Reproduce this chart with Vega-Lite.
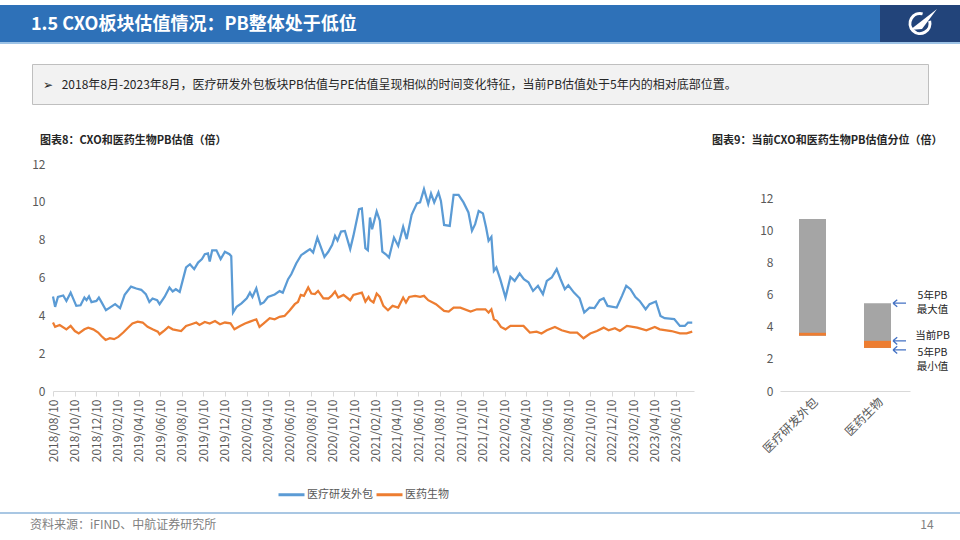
{
  "$schema": "https://vega.github.io/schema/vega-lite/v6.json",
  "background": "white",
  "padding": {"left": 0, "top": 5, "right": 0, "bottom": 0},
  "config": {"font": "Noto Sans CJK SC", "view": {"stroke": null}, "axisY": {"labelOverlap": false}, "axisQuantitative": {"labelOverlap": false}},
  "spacing": 0,
  "resolve": {"scale": {"color": "independent"}, "legend": {"color": "independent"}},
  "vconcat": [
    {
      "spacing": 0,
      "hconcat": [
        {
          "width": 880, "height": 37,
          "view": {"fill": "#2E71B8", "stroke": null},
          "title": {"text": "1.5 CXO板块估值情况：PB整体处于低位", "anchor": "start", "frame": "group", "orient": "top", "offset": -38, "dx": 31, "baseline": "middle", "color": "#FFFFFF", "fontSize": 18, "fontWeight": "bold"},
          "data": {"values": []},
          "mark": "point"
        },
        {
          "width": 80, "height": 37,
          "view": {"fill": "#22447A", "stroke": null},
          "data": {"values": [{"k": "logo"}]},
          "layer": [
            {"mark": {"type": "point", "shape": "M0.966,-0.259A1,1 0 1,1 0.259,-0.966", "filled": false, "stroke": "#FFFFFF", "strokeWidth": 3, "size": 400, "opacity": 1}, "encoding": {}},
            {"mark": {"type": "point", "shape": "M-1,0.65L1.7,-1.45L0.2,0.55Z", "filled": true, "fill": "#FFFFFF", "strokeWidth": 0, "size": 400, "opacity": 1}, "encoding": {}}
          ]
        }
      ]
    },
    {"width": 960, "height": 2, "view": {"fill": "#9DC3E6", "stroke": null}, "data": {"values": []}, "mark": "point"},
    {"width": 960, "height": 19, "data": {"values": []}, "mark": "point"},
    {
      "spacing": 0,
      "hconcat": [
        {"width": 31, "height": 40, "data": {"values": []}, "mark": "point"},
        {
          "width": 896, "height": 40,
          "view": {"fill": "#F2F2F2", "stroke": "#BFBFBF", "strokeWidth": 1},
          "title": {"text": "➢\u2002 2018年8月-2023年8月，医疗研发外包板块PB估值与PE估值呈现相似的时间变化特征，当前PB估值处于5年内的相对底部位置。", "anchor": "start", "frame": "group", "orient": "top", "offset": -33, "dx": 11, "baseline": "middle", "color": "#262626", "fontSize": 12, "fontWeight": "normal"},
          "data": {"values": []},
          "mark": "point"
        }
      ]
    },
    {"width": 960, "height": 30, "data": {"values": []}, "mark": "point"},
    {
      "spacing": 0,
      "resolve": {"scale": {"color": "independent"}, "legend": {"color": "independent"}},
      "hconcat": [
        {"width": 31, "height": 10, "data": {"values": []}, "mark": "point"},
        {
          "width": 641, "height": 227,
          "title": {"text": "图表8：CXO和医药生物PB估值（倍）", "anchor": "start", "frame": "group", "orient": "top", "dx": -13, "offset": 1, "baseline": "bottom", "fontSize": 11, "fontWeight": "bold", "color": "#262626"},
          "data": {"values": [
            {"date": "2018-08-10", "series": "医疗研发外包", "pb": 5.0},
            {"date": "2018-08-16", "series": "医疗研发外包", "pb": 4.45},
            {"date": "2018-08-24", "series": "医疗研发外包", "pb": 4.97},
            {"date": "2018-09-08", "series": "医疗研发外包", "pb": 5.05},
            {"date": "2018-09-17", "series": "医疗研发外包", "pb": 4.76},
            {"date": "2018-09-29", "series": "医疗研发外包", "pb": 5.2},
            {"date": "2018-10-15", "series": "医疗研发外包", "pb": 4.5},
            {"date": "2018-10-27", "series": "医疗研发外包", "pb": 4.53},
            {"date": "2018-11-07", "series": "医疗研发外包", "pb": 4.94},
            {"date": "2018-11-13", "series": "医疗研发外包", "pb": 4.8},
            {"date": "2018-11-20", "series": "医疗研发外包", "pb": 5.0},
            {"date": "2018-11-27", "series": "医疗研发外包", "pb": 4.7},
            {"date": "2018-12-11", "series": "医疗研发外包", "pb": 4.76},
            {"date": "2018-12-18", "series": "医疗研发外包", "pb": 4.94},
            {"date": "2018-12-25", "series": "医疗研发外包", "pb": 4.71},
            {"date": "2019-01-07", "series": "医疗研发外包", "pb": 4.27},
            {"date": "2019-01-18", "series": "医疗研发外包", "pb": 4.41},
            {"date": "2019-02-02", "series": "医疗研发外包", "pb": 4.59},
            {"date": "2019-02-16", "series": "医疗研发外包", "pb": 4.38},
            {"date": "2019-03-01", "series": "医疗研发外包", "pb": 5.08},
            {"date": "2019-03-19", "series": "医疗研发外包", "pb": 5.52},
            {"date": "2019-04-03", "series": "医疗研发外包", "pb": 5.42},
            {"date": "2019-04-17", "series": "医疗研发外包", "pb": 5.35},
            {"date": "2019-04-30", "series": "医疗研发外包", "pb": 5.12},
            {"date": "2019-05-10", "series": "医疗研发外包", "pb": 4.71},
            {"date": "2019-05-19", "series": "医疗研发外包", "pb": 4.89},
            {"date": "2019-06-01", "series": "医疗研发外包", "pb": 4.8},
            {"date": "2019-06-08", "series": "医疗研发外包", "pb": 4.59},
            {"date": "2019-06-22", "series": "医疗研发外包", "pb": 4.97},
            {"date": "2019-07-06", "series": "医疗研发外包", "pb": 5.47},
            {"date": "2019-07-15", "series": "医疗研发外包", "pb": 5.26},
            {"date": "2019-07-24", "series": "医疗研发外包", "pb": 5.38},
            {"date": "2019-08-04", "series": "医疗研发外包", "pb": 5.24},
            {"date": "2019-08-22", "series": "医疗研发外包", "pb": 6.53},
            {"date": "2019-09-02", "series": "医疗研发外包", "pb": 6.7},
            {"date": "2019-09-14", "series": "医疗研发外包", "pb": 6.44},
            {"date": "2019-09-25", "series": "医疗研发外包", "pb": 6.79},
            {"date": "2019-10-06", "series": "医疗研发外包", "pb": 6.97},
            {"date": "2019-10-14", "series": "医疗研发外包", "pb": 7.23},
            {"date": "2019-10-23", "series": "医疗研发外包", "pb": 7.27},
            {"date": "2019-10-28", "series": "医疗研发外包", "pb": 6.85},
            {"date": "2019-11-04", "series": "医疗研发外包", "pb": 7.44},
            {"date": "2019-11-16", "series": "医疗研发外包", "pb": 7.44},
            {"date": "2019-11-28", "series": "医疗研发外包", "pb": 6.97},
            {"date": "2019-12-10", "series": "医疗研发外包", "pb": 7.36},
            {"date": "2019-12-23", "series": "医疗研发外包", "pb": 7.23},
            {"date": "2019-12-28", "series": "医疗研发外包", "pb": 7.13},
            {"date": "2020-01-02", "series": "医疗研发外包", "pb": 4.15},
            {"date": "2020-01-12", "series": "医疗研发外包", "pb": 4.45},
            {"date": "2020-01-26", "series": "医疗研发外包", "pb": 4.63},
            {"date": "2020-02-10", "series": "医疗研发外包", "pb": 4.9},
            {"date": "2020-02-19", "series": "医疗研发外包", "pb": 5.2},
            {"date": "2020-02-26", "series": "医疗研发外包", "pb": 4.97},
            {"date": "2020-03-08", "series": "医疗研发外包", "pb": 5.43},
            {"date": "2020-03-20", "series": "医疗研发外包", "pb": 4.59},
            {"date": "2020-03-29", "series": "医疗研发外包", "pb": 4.68},
            {"date": "2020-04-10", "series": "医疗研发外包", "pb": 4.97},
            {"date": "2020-04-29", "series": "医疗研发外包", "pb": 5.1},
            {"date": "2020-05-13", "series": "医疗研发外包", "pb": 5.28},
            {"date": "2020-05-22", "series": "医疗研发外包", "pb": 5.2},
            {"date": "2020-06-06", "series": "医疗研发外包", "pb": 5.91},
            {"date": "2020-06-15", "series": "医疗研发外包", "pb": 6.17},
            {"date": "2020-06-29", "series": "医疗研发外包", "pb": 6.74},
            {"date": "2020-07-13", "series": "医疗研发外包", "pb": 7.18},
            {"date": "2020-07-27", "series": "医疗研发外包", "pb": 7.36},
            {"date": "2020-08-07", "series": "医疗研发外包", "pb": 7.5},
            {"date": "2020-08-16", "series": "医疗研发外包", "pb": 7.32},
            {"date": "2020-08-28", "series": "医疗研发外包", "pb": 8.11},
            {"date": "2020-09-17", "series": "医疗研发外包", "pb": 7.09},
            {"date": "2020-09-28", "series": "医疗研发外包", "pb": 7.36},
            {"date": "2020-10-09", "series": "医疗研发外包", "pb": 7.73},
            {"date": "2020-10-17", "series": "医疗研发外包", "pb": 8.2},
            {"date": "2020-10-24", "series": "医疗研发外包", "pb": 7.96},
            {"date": "2020-11-03", "series": "医疗研发外包", "pb": 8.43},
            {"date": "2020-11-14", "series": "医疗研发外包", "pb": 8.46},
            {"date": "2020-11-29", "series": "医疗研发外包", "pb": 7.5},
            {"date": "2020-12-08", "series": "医疗研发外包", "pb": 8.2},
            {"date": "2020-12-24", "series": "医疗研发外包", "pb": 9.61},
            {"date": "2021-01-01", "series": "医疗研发外包", "pb": 9.65},
            {"date": "2021-01-11", "series": "医疗研发外包", "pb": 7.55},
            {"date": "2021-01-18", "series": "医疗研发外包", "pb": 7.44},
            {"date": "2021-01-24", "series": "医疗研发外包", "pb": 9.17},
            {"date": "2021-01-30", "series": "医疗研发外包", "pb": 8.55},
            {"date": "2021-02-12", "series": "医疗研发外包", "pb": 9.49},
            {"date": "2021-02-21", "series": "医疗研发外包", "pb": 9.0},
            {"date": "2021-02-28", "series": "医疗研发外包", "pb": 7.37},
            {"date": "2021-03-10", "series": "医疗研发外包", "pb": 7.23},
            {"date": "2021-03-19", "series": "医疗研发外包", "pb": 7.06},
            {"date": "2021-04-02", "series": "医疗研发外包", "pb": 8.11},
            {"date": "2021-04-14", "series": "医疗研发外包", "pb": 7.67},
            {"date": "2021-04-28", "series": "医疗研发外包", "pb": 8.68},
            {"date": "2021-05-08", "series": "医疗研发外包", "pb": 8.03},
            {"date": "2021-05-22", "series": "医疗研发外包", "pb": 9.31},
            {"date": "2021-06-06", "series": "医疗研发外包", "pb": 9.92},
            {"date": "2021-06-15", "series": "医疗研发外包", "pb": 9.97},
            {"date": "2021-06-26", "series": "医疗研发外包", "pb": 10.67},
            {"date": "2021-07-08", "series": "医疗研发外包", "pb": 9.88},
            {"date": "2021-07-16", "series": "医疗研发外包", "pb": 10.44},
            {"date": "2021-07-25", "series": "医疗研发外包", "pb": 9.97},
            {"date": "2021-08-06", "series": "医疗研发外包", "pb": 10.5},
            {"date": "2021-08-13", "series": "医疗研发外包", "pb": 10.05},
            {"date": "2021-08-22", "series": "医疗研发外包", "pb": 8.78},
            {"date": "2021-09-07", "series": "医疗研发外包", "pb": 8.73},
            {"date": "2021-09-18", "series": "医疗研发外包", "pb": 10.37},
            {"date": "2021-10-02", "series": "医疗研发外包", "pb": 10.37},
            {"date": "2021-10-16", "series": "医疗研发外包", "pb": 9.97},
            {"date": "2021-10-30", "series": "医疗研发外包", "pb": 9.44},
            {"date": "2021-11-09", "series": "医疗研发外包", "pb": 8.47},
            {"date": "2021-11-18", "series": "医疗研发外包", "pb": 8.82},
            {"date": "2021-11-28", "series": "医疗研发外包", "pb": 9.52},
            {"date": "2021-12-10", "series": "医疗研发外包", "pb": 9.39},
            {"date": "2021-12-19", "series": "医疗研发外包", "pb": 8.64},
            {"date": "2021-12-26", "series": "医疗研发外包", "pb": 7.94},
            {"date": "2022-01-03", "series": "医疗研发外包", "pb": 8.15},
            {"date": "2022-01-10", "series": "医疗研发外包", "pb": 6.35},
            {"date": "2022-01-17", "series": "医疗研发外包", "pb": 6.53},
            {"date": "2022-01-28", "series": "医疗研发外包", "pb": 5.91},
            {"date": "2022-02-12", "series": "医疗研发外包", "pb": 4.94},
            {"date": "2022-02-26", "series": "医疗研发外包", "pb": 6.03},
            {"date": "2022-03-10", "series": "医疗研发外包", "pb": 5.82},
            {"date": "2022-03-24", "series": "医疗研发外包", "pb": 6.21},
            {"date": "2022-04-05", "series": "医疗研发外包", "pb": 5.91},
            {"date": "2022-04-18", "series": "医疗研发外包", "pb": 5.75},
            {"date": "2022-05-01", "series": "医疗研发外包", "pb": 5.29},
            {"date": "2022-05-15", "series": "医疗研发外包", "pb": 5.56},
            {"date": "2022-05-29", "series": "医疗研发外包", "pb": 5.12},
            {"date": "2022-06-09", "series": "医疗研发外包", "pb": 5.82},
            {"date": "2022-06-23", "series": "医疗研发外包", "pb": 6.0},
            {"date": "2022-07-07", "series": "医疗研发外包", "pb": 6.44},
            {"date": "2022-07-18", "series": "医疗研发外包", "pb": 5.91},
            {"date": "2022-07-30", "series": "医疗研发外包", "pb": 5.38},
            {"date": "2022-08-09", "series": "医疗研发外包", "pb": 5.59},
            {"date": "2022-08-25", "series": "医疗研发外包", "pb": 5.2},
            {"date": "2022-09-10", "series": "医疗研发外包", "pb": 4.9},
            {"date": "2022-09-23", "series": "医疗研发外包", "pb": 4.15},
            {"date": "2022-10-08", "series": "医疗研发外包", "pb": 4.41},
            {"date": "2022-10-22", "series": "医疗研发外包", "pb": 4.38},
            {"date": "2022-11-06", "series": "医疗研发外包", "pb": 4.8},
            {"date": "2022-11-17", "series": "医疗研发外包", "pb": 4.9},
            {"date": "2022-11-28", "series": "医疗研发外包", "pb": 4.5},
            {"date": "2022-12-24", "series": "医疗研发外包", "pb": 4.41},
            {"date": "2023-01-08", "series": "医疗研发外包", "pb": 5.03},
            {"date": "2023-01-20", "series": "医疗研发外包", "pb": 5.56},
            {"date": "2023-02-01", "series": "医疗研发外包", "pb": 5.38},
            {"date": "2023-02-15", "series": "医疗研发外包", "pb": 4.97},
            {"date": "2023-02-27", "series": "医疗研发外包", "pb": 4.76},
            {"date": "2023-03-16", "series": "医疗研发外包", "pb": 4.32},
            {"date": "2023-03-27", "series": "医疗研发外包", "pb": 4.59},
            {"date": "2023-04-14", "series": "医疗研发外包", "pb": 4.73},
            {"date": "2023-04-27", "series": "医疗研发外包", "pb": 3.97},
            {"date": "2023-05-09", "series": "医疗研发外包", "pb": 3.85},
            {"date": "2023-05-23", "series": "医疗研发外包", "pb": 3.83},
            {"date": "2023-06-05", "series": "医疗研发外包", "pb": 3.8},
            {"date": "2023-06-21", "series": "医疗研发外包", "pb": 3.44},
            {"date": "2023-07-05", "series": "医疗研发外包", "pb": 3.44},
            {"date": "2023-07-14", "series": "医疗研发外包", "pb": 3.62},
            {"date": "2023-07-26", "series": "医疗研发外包", "pb": 3.62},
            {"date": "2018-08-10", "series": "医药生物", "pb": 3.62},
            {"date": "2018-08-16", "series": "医药生物", "pb": 3.39},
            {"date": "2018-08-29", "series": "医药生物", "pb": 3.49},
            {"date": "2018-09-17", "series": "医药生物", "pb": 3.26},
            {"date": "2018-09-29", "series": "医药生物", "pb": 3.44},
            {"date": "2018-10-11", "series": "医药生物", "pb": 3.17},
            {"date": "2018-10-22", "series": "医药生物", "pb": 3.04},
            {"date": "2018-11-07", "series": "医药生物", "pb": 3.26},
            {"date": "2018-11-18", "series": "医药生物", "pb": 3.35},
            {"date": "2018-12-02", "series": "医药生物", "pb": 3.26},
            {"date": "2018-12-16", "series": "医药生物", "pb": 3.09},
            {"date": "2018-12-25", "series": "医药生物", "pb": 2.91},
            {"date": "2019-01-06", "series": "医药生物", "pb": 2.7},
            {"date": "2019-01-18", "series": "医药生物", "pb": 2.79},
            {"date": "2019-01-30", "series": "医药生物", "pb": 2.74},
            {"date": "2019-02-11", "series": "医药生物", "pb": 2.86},
            {"date": "2019-02-25", "series": "医药生物", "pb": 3.09},
            {"date": "2019-03-09", "series": "医药生物", "pb": 3.32},
            {"date": "2019-03-23", "series": "医药生物", "pb": 3.57},
            {"date": "2019-04-07", "series": "医药生物", "pb": 3.67},
            {"date": "2019-04-21", "series": "医药生物", "pb": 3.62},
            {"date": "2019-05-05", "series": "医药生物", "pb": 3.39},
            {"date": "2019-05-19", "series": "医药生物", "pb": 3.26},
            {"date": "2019-06-03", "series": "医药生物", "pb": 3.14},
            {"date": "2019-06-08", "series": "医药生物", "pb": 3.0},
            {"date": "2019-06-22", "series": "医药生物", "pb": 3.21},
            {"date": "2019-07-03", "series": "医药生物", "pb": 3.39},
            {"date": "2019-07-15", "series": "医药生物", "pb": 3.26},
            {"date": "2019-08-08", "series": "医药生物", "pb": 3.17},
            {"date": "2019-08-22", "series": "医药生物", "pb": 3.44},
            {"date": "2019-09-06", "series": "医药生物", "pb": 3.53},
            {"date": "2019-09-20", "series": "医药生物", "pb": 3.62},
            {"date": "2019-09-29", "series": "医药生物", "pb": 3.49},
            {"date": "2019-10-14", "series": "医药生物", "pb": 3.65},
            {"date": "2019-10-28", "series": "医药生物", "pb": 3.57},
            {"date": "2019-11-12", "series": "医药生物", "pb": 3.7},
            {"date": "2019-11-26", "series": "医药生物", "pb": 3.53},
            {"date": "2019-12-10", "series": "医药生物", "pb": 3.62},
            {"date": "2019-12-26", "series": "医药生物", "pb": 3.58},
            {"date": "2020-01-06", "series": "医药生物", "pb": 3.26},
            {"date": "2020-01-22", "series": "医药生物", "pb": 3.44},
            {"date": "2020-02-05", "series": "医药生物", "pb": 3.57},
            {"date": "2020-02-19", "series": "医药生物", "pb": 3.67},
            {"date": "2020-03-08", "series": "医药生物", "pb": 3.79},
            {"date": "2020-03-17", "series": "医药生物", "pb": 3.39},
            {"date": "2020-03-29", "series": "医药生物", "pb": 3.57},
            {"date": "2020-04-15", "series": "医药生物", "pb": 3.85},
            {"date": "2020-04-29", "series": "医药生物", "pb": 3.79},
            {"date": "2020-05-13", "series": "医药生物", "pb": 3.92},
            {"date": "2020-05-27", "series": "医药生物", "pb": 3.97},
            {"date": "2020-06-11", "series": "医药生物", "pb": 4.27},
            {"date": "2020-06-25", "series": "医药生物", "pb": 4.59},
            {"date": "2020-07-04", "series": "医药生物", "pb": 4.71},
            {"date": "2020-07-12", "series": "医药生物", "pb": 5.08},
            {"date": "2020-07-21", "series": "医药生物", "pb": 5.03},
            {"date": "2020-08-02", "series": "医药生物", "pb": 5.47},
            {"date": "2020-08-11", "series": "医药生物", "pb": 5.15},
            {"date": "2020-08-21", "series": "医药生物", "pb": 5.12},
            {"date": "2020-08-30", "series": "医药生物", "pb": 5.29},
            {"date": "2020-09-14", "series": "医药生物", "pb": 4.9},
            {"date": "2020-09-28", "series": "医药生物", "pb": 4.89},
            {"date": "2020-10-07", "series": "医药生物", "pb": 5.03},
            {"date": "2020-10-17", "series": "医药生物", "pb": 5.26},
            {"date": "2020-10-26", "series": "医药生物", "pb": 4.94},
            {"date": "2020-11-10", "series": "医药生物", "pb": 5.08},
            {"date": "2020-11-29", "series": "医药生物", "pb": 4.8},
            {"date": "2020-12-08", "series": "医药生物", "pb": 5.08},
            {"date": "2021-01-01", "series": "医药生物", "pb": 5.2},
            {"date": "2021-01-11", "series": "医药生物", "pb": 4.73},
            {"date": "2021-01-20", "series": "医药生物", "pb": 4.97},
            {"date": "2021-01-25", "series": "医药生物", "pb": 4.8},
            {"date": "2021-02-03", "series": "医药生物", "pb": 4.68},
            {"date": "2021-02-12", "series": "医药生物", "pb": 5.15},
            {"date": "2021-02-21", "series": "医药生物", "pb": 4.97},
            {"date": "2021-03-03", "series": "医药生物", "pb": 4.5},
            {"date": "2021-03-16", "series": "医药生物", "pb": 4.27},
            {"date": "2021-03-29", "series": "医药生物", "pb": 4.5},
            {"date": "2021-04-14", "series": "医药生物", "pb": 4.41},
            {"date": "2021-04-28", "series": "医药生物", "pb": 4.94},
            {"date": "2021-05-06", "series": "医药生物", "pb": 4.68},
            {"date": "2021-05-15", "series": "医药生物", "pb": 4.97},
            {"date": "2021-06-01", "series": "医药生物", "pb": 5.03},
            {"date": "2021-06-15", "series": "医药生物", "pb": 4.98},
            {"date": "2021-06-26", "series": "医药生物", "pb": 5.03},
            {"date": "2021-07-08", "series": "医药生物", "pb": 4.8},
            {"date": "2021-07-30", "series": "医药生物", "pb": 4.59},
            {"date": "2021-08-22", "series": "医药生物", "pb": 4.23},
            {"date": "2021-09-04", "series": "医药生物", "pb": 4.2},
            {"date": "2021-09-18", "series": "医药生物", "pb": 4.41},
            {"date": "2021-10-07", "series": "医药生物", "pb": 4.41},
            {"date": "2021-11-05", "series": "医药生物", "pb": 4.2},
            {"date": "2021-11-23", "series": "医药生物", "pb": 4.32},
            {"date": "2021-12-17", "series": "医药生物", "pb": 4.32},
            {"date": "2021-12-26", "series": "医药生物", "pb": 4.15},
            {"date": "2022-01-03", "series": "医药生物", "pb": 4.32},
            {"date": "2022-01-10", "series": "医药生物", "pb": 3.79},
            {"date": "2022-01-19", "series": "医药生物", "pb": 3.7},
            {"date": "2022-01-30", "series": "医药生物", "pb": 3.39},
            {"date": "2022-02-12", "series": "医药生物", "pb": 3.26},
            {"date": "2022-02-26", "series": "医药生物", "pb": 3.44},
            {"date": "2022-03-15", "series": "医药生物", "pb": 3.44},
            {"date": "2022-04-04", "series": "医药生物", "pb": 3.44},
            {"date": "2022-04-22", "series": "医药生物", "pb": 3.09},
            {"date": "2022-05-11", "series": "医药生物", "pb": 3.14},
            {"date": "2022-05-25", "series": "医药生物", "pb": 3.04},
            {"date": "2022-06-09", "series": "医药生物", "pb": 3.21},
            {"date": "2022-07-02", "series": "医药生物", "pb": 3.39},
            {"date": "2022-07-21", "series": "医药生物", "pb": 3.21},
            {"date": "2022-08-14", "series": "医药生物", "pb": 3.09},
            {"date": "2022-09-03", "series": "医药生物", "pb": 3.09},
            {"date": "2022-09-21", "series": "医药生物", "pb": 2.79},
            {"date": "2022-10-10", "series": "医药生物", "pb": 3.04},
            {"date": "2022-10-29", "series": "医药生物", "pb": 3.17},
            {"date": "2022-11-17", "series": "医药生物", "pb": 3.35},
            {"date": "2022-12-01", "series": "医药生物", "pb": 3.21},
            {"date": "2022-12-19", "series": "医药生物", "pb": 3.32},
            {"date": "2023-01-02", "series": "医药生物", "pb": 3.17},
            {"date": "2023-01-22", "series": "医药生物", "pb": 3.44},
            {"date": "2023-02-20", "series": "医药生物", "pb": 3.35},
            {"date": "2023-03-18", "series": "医药生物", "pb": 3.21},
            {"date": "2023-04-11", "series": "医药生物", "pb": 3.39},
            {"date": "2023-04-25", "series": "医药生物", "pb": 3.26},
            {"date": "2023-05-28", "series": "医药生物", "pb": 3.17},
            {"date": "2023-06-21", "series": "医药生物", "pb": 3.05},
            {"date": "2023-07-10", "series": "医药生物", "pb": 3.05},
            {"date": "2023-07-26", "series": "医药生物", "pb": 3.14}
          ]},
          "mark": {"type": "line", "strokeWidth": 2.25},
          "encoding": {
            "x": {
              "field": "date", "type": "temporal",
              "scale": {"type": "utc", "domain": [{"year": 2018, "month": 8, "date": 10, "utc": true}, {"year": 2023, "month": 7, "date": 31, "utc": true}]},
              "axis": {
                "title": null, "grid": false, "format": "%Y/%m/%d", "labelAngle": 270, "labelFontSize": 12, "labelColor": "#595959",
                "labelPadding": 3, "tickSize": 5, "tickColor": "#D9D9D9", "domainColor": "#D9D9D9", "labelFlush": false, "labelOverlap": false, "tickCount": 40,
                "values": [
                  {"year": 2018, "month": 8, "date": 10, "utc": true}, {"year": 2018, "month": 10, "date": 10, "utc": true}, {"year": 2018, "month": 12, "date": 10, "utc": true},
                  {"year": 2019, "month": 2, "date": 10, "utc": true}, {"year": 2019, "month": 4, "date": 10, "utc": true}, {"year": 2019, "month": 6, "date": 10, "utc": true},
                  {"year": 2019, "month": 8, "date": 10, "utc": true}, {"year": 2019, "month": 10, "date": 10, "utc": true}, {"year": 2019, "month": 12, "date": 10, "utc": true},
                  {"year": 2020, "month": 2, "date": 10, "utc": true}, {"year": 2020, "month": 4, "date": 10, "utc": true}, {"year": 2020, "month": 6, "date": 10, "utc": true},
                  {"year": 2020, "month": 8, "date": 10, "utc": true}, {"year": 2020, "month": 10, "date": 10, "utc": true}, {"year": 2020, "month": 12, "date": 10, "utc": true},
                  {"year": 2021, "month": 2, "date": 10, "utc": true}, {"year": 2021, "month": 4, "date": 10, "utc": true}, {"year": 2021, "month": 6, "date": 10, "utc": true},
                  {"year": 2021, "month": 8, "date": 10, "utc": true}, {"year": 2021, "month": 10, "date": 10, "utc": true}, {"year": 2021, "month": 12, "date": 10, "utc": true},
                  {"year": 2022, "month": 2, "date": 10, "utc": true}, {"year": 2022, "month": 4, "date": 10, "utc": true}, {"year": 2022, "month": 6, "date": 10, "utc": true},
                  {"year": 2022, "month": 8, "date": 10, "utc": true}, {"year": 2022, "month": 10, "date": 10, "utc": true}, {"year": 2022, "month": 12, "date": 10, "utc": true},
                  {"year": 2023, "month": 2, "date": 10, "utc": true}, {"year": 2023, "month": 4, "date": 10, "utc": true}, {"year": 2023, "month": 6, "date": 10, "utc": true}
                ]
              }
            },
            "y": {
              "field": "pb", "type": "quantitative",
              "scale": {"domain": [0, 12], "nice": false},
              "axis": {"title": null, "values": [0, 2, 4, 6, 8, 10, 12], "tickCount": 10, "grid": false, "domain": false, "ticks": false, "labelFontSize": 12, "labelColor": "#595959", "labelPadding": 8, "labelOverlap": false}
            },
            "color": {
              "field": "series", "type": "nominal",
              "scale": {"domain": ["医疗研发外包", "医药生物"], "range": ["#5B9BD5", "#ED7D31"]},
              "legend": {"orient": "none", "legendX": 224, "legendY": 316, "padding": 0, "direction": "horizontal", "title": null, "symbolType": "stroke", "symbolStrokeWidth": 3, "symbolSize": 676, "labelFontSize": 11, "labelColor": "#595959", "labelOffset": 1, "columnPadding": -3}
            }
          }
        },
        {"width": 15, "height": 10, "data": {"values": []}, "mark": "point"},
        {
          "width": 130, "height": 227,
          "title": {"text": "图表9：当前CXO和医药生物PB估值分位（倍）", "anchor": "start", "frame": "group", "orient": "top", "dx": -68, "offset": 7, "baseline": "bottom", "fontSize": 11, "fontWeight": "bold", "color": "#262626"},
          "data": {"values": [
            {"cat": "医疗研发外包", "min": 3.44, "cur": 3.62, "max": 10.7},
            {"cat": "医药生物", "min": 2.68, "cur": 3.12, "max": 5.46}
          ]},
          "encoding": {
            "x": {"field": "cat", "type": "nominal", "sort": null, "scale": {"paddingInner": 0, "paddingOuter": 0},
                  "axis": {"title": null, "labelAngle": -45, "labelFontSize": 12, "labelColor": "#595959", "ticks": false, "domainColor": "#D9D9D9", "labelPadding": 5}},
            "y": {"field": "min", "type": "quantitative", "scale": {"domain": [0, 14.12], "nice": false},
                  "axis": {"title": null, "values": [0, 2, 4, 6, 8, 10, 12], "tickCount": 10, "grid": false, "domain": false, "ticks": false, "labelFontSize": 12, "labelColor": "#595959", "labelPadding": 7, "labelOverlap": false}}
          },
          "layer": [
            {"mark": {"type": "bar", "color": "#A5A5A5", "size": 27},
             "encoding": {"y2": {"field": "max"}}},
            {"mark": {"type": "bar", "color": "#ED7D31", "size": 27},
             "encoding": {"y2": {"field": "cur"}}},
            {"transform": [{"filter": "datum.cat === '医药生物'"}],
             "mark": {"type": "point", "shape": "M-1,0L1,0M-1,0L-0.35,-0.55M-1,0L-0.35,0.55", "filled": false, "stroke": "#4472C4", "strokeWidth": 1.3, "size": 169, "xOffset": 22, "opacity": 1},
             "encoding": {"y": {"field": "max", "type": "quantitative", "axis": {"title": null, "values": [0, 2, 4, 6, 8, 10, 12], "tickCount": 10, "labelOverlap": false}}}},
            {"transform": [{"filter": "datum.cat === '医药生物'"}],
             "mark": {"type": "point", "shape": "M-1,0L1,0M-1,0L-0.35,-0.55M-1,0L-0.35,0.55", "filled": false, "stroke": "#4472C4", "strokeWidth": 1.3, "size": 169, "xOffset": 22, "opacity": 1},
             "encoding": {"y": {"field": "cur", "type": "quantitative", "axis": {"title": null, "values": [0, 2, 4, 6, 8, 10, 12], "tickCount": 10, "labelOverlap": false}}}},
            {"transform": [{"filter": "datum.cat === '医药生物'"}],
             "mark": {"type": "point", "shape": "M-1,0L1,0M-1,0L-0.35,-0.55M-1,0L-0.35,0.55", "filled": false, "stroke": "#4472C4", "strokeWidth": 1.3, "size": 169, "xOffset": 22, "yOffset": 2, "opacity": 1},
             "encoding": {}},
            {"transform": [{"filter": "datum.cat === '医药生物'"}],
             "mark": {"type": "text", "dx": 55, "dy": -7, "align": "center", "baseline": "middle", "fontSize": 10.5, "color": "#262626"},
             "encoding": {"y": {"field": "max", "type": "quantitative", "axis": {"title": null, "values": [0, 2, 4, 6, 8, 10, 12], "tickCount": 10, "labelOverlap": false}}, "text": {"value": "5年PB"}}},
            {"transform": [{"filter": "datum.cat === '医药生物'"}],
             "mark": {"type": "text", "dx": 55, "dy": 7, "align": "center", "baseline": "middle", "fontSize": 10.5, "color": "#262626"},
             "encoding": {"y": {"field": "max", "type": "quantitative", "axis": {"title": null, "values": [0, 2, 4, 6, 8, 10, 12], "tickCount": 10, "labelOverlap": false}}, "text": {"value": "最大值"}}},
            {"transform": [{"filter": "datum.cat === '医药生物'"}],
             "mark": {"type": "text", "dx": 55, "dy": -5, "align": "center", "baseline": "middle", "fontSize": 10.5, "color": "#262626"},
             "encoding": {"y": {"field": "cur", "type": "quantitative", "axis": {"title": null, "values": [0, 2, 4, 6, 8, 10, 12], "tickCount": 10, "labelOverlap": false}}, "text": {"value": "当前PB"}}},
            {"transform": [{"filter": "datum.cat === '医药生物'"}],
             "mark": {"type": "text", "dx": 55, "dy": 5, "align": "center", "baseline": "middle", "fontSize": 10.5, "color": "#262626"},
             "encoding": {"text": {"value": "5年PB"}}},
            {"transform": [{"filter": "datum.cat === '医药生物'"}],
             "mark": {"type": "text", "dx": 55, "dy": 19, "align": "center", "baseline": "middle", "fontSize": 10.5, "color": "#262626"},
             "encoding": {"text": {"value": "最小值"}}}
          ]
        }
      ]
    },
    {"width": 960, "height": 11, "data": {"values": []}, "mark": "point"},
    {
      "spacing": 0,
      "hconcat": [
        {
          "width": 880, "height": 2,
          "view": {"fill": "#A9C7E3", "stroke": null},
          "title": {"text": "资料来源：iFIND、中航证券研究所", "anchor": "start", "frame": "group", "orient": "bottom", "offset": 6, "dx": 30, "baseline": "top", "color": "#808080", "fontSize": 12, "fontWeight": "normal"},
          "data": {"values": []},
          "mark": "point"
        },
        {
          "width": 80, "height": 2,
          "view": {"fill": "#A9C7E3", "stroke": null},
          "title": {"text": "14", "anchor": "middle", "frame": "group", "orient": "bottom", "offset": 6, "dx": 7, "baseline": "top", "color": "#808080", "fontSize": 12, "fontWeight": "normal"},
          "data": {"values": []},
          "mark": "point"
        }
      ]
    }
  ]
}
